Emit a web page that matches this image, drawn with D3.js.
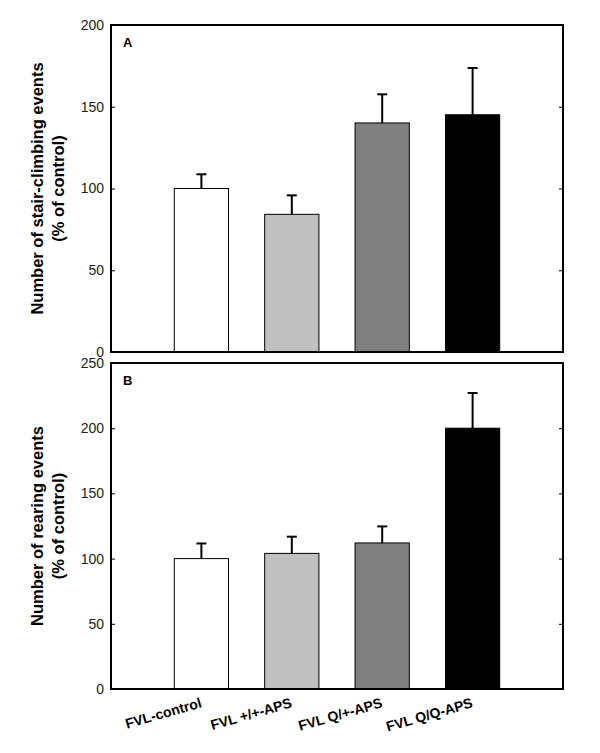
<!DOCTYPE html>
<html><head><meta charset="utf-8">
<script src="https://cdn.jsdelivr.net/npm/d3@7"></script>
<style>body{margin:0;background:#fff}</style>
</head><body>
<svg id="c" width="600" height="753"></svg>
<script>
const categories = ["FVL-control", "FVL +/+-APS", "FVL Q/+-APS", "FVL Q/Q-APS"];
const barColors = ["#ffffff", "#c0c0c0", "#808080", "#000000"];
const stairValues = [100, 84.2, 140.1, 145.1];
const stairErrors = [8.7, 11.6, 17.5, 28.6];
const rearValues = [100, 104, 112, 200];
const rearErrors = [11.6, 12.8, 12.7, 27];
const stairTicks = [0, 50, 100, 150, 200];
const rearTicks = [0, 50, 100, 150, 200, 250];

const svg = d3.select("#c");
const left = 111, right = 563;
const x = d3.scaleLinear().domain([0, 5]).range([left, right]);
const barW = 0.6;
const font = "Liberation Sans, Arial, sans-serif";

function panel(top, bottom, maxY, ticks, values, errors, letter, title) {
  const y = d3.scaleLinear().domain([0, maxY]).range([bottom, top]);
  const g = svg.append("g");
  g.selectAll("rect.bar").data(values).join("rect")
    .attr("x", (d, i) => x(i + 1 - barW / 2))
    .attr("width", x(barW) - x(0))
    .attr("y", d => y(d))
    .attr("height", d => y(0) - y(d))
    .attr("fill", (d, i) => barColors[i])
    .attr("stroke", "#000").attr("stroke-width", 1);
  g.selectAll("line.err").data(values).join("line")
    .attr("x1", (d, i) => x(i + 1)).attr("x2", (d, i) => x(i + 1))
    .attr("y1", d => y(d)).attr("y2", (d, i) => y(d + errors[i]))
    .attr("stroke", "#000").attr("stroke-width", 2);
  g.selectAll("line.cap").data(values).join("line")
    .attr("x1", (d, i) => x(i + 1) - 5).attr("x2", (d, i) => x(i + 1) + 5)
    .attr("y1", (d, i) => y(d + errors[i])).attr("y2", (d, i) => y(d + errors[i]))
    .attr("stroke", "#000").attr("stroke-width", 2);
  const ax = g.append("g").attr("transform", `translate(${left},0)`)
    .call(d3.axisLeft(y).tickValues(ticks).tickSizeInner(-4).tickSizeOuter(0).tickPadding(7));
  ax.select(".domain").remove();
  ax.selectAll("text").attr("font-family", font).attr("font-size", 14).attr("fill", "#222");
  ax.selectAll("line").attr("stroke", "#000");
  const ar = g.append("g").attr("transform", `translate(${right},0)`)
    .call(d3.axisRight(y).tickValues(ticks).tickSizeInner(-4).tickSizeOuter(0).tickFormat(""));
  ar.select(".domain").remove();
  ar.selectAll("line").attr("stroke", "#000");
  g.append("rect").attr("x", left).attr("y", top).attr("width", right - left).attr("height", bottom - top)
    .attr("fill", "none").attr("stroke", "#000").attr("stroke-width", 2);
  g.append("text").attr("x", 123).attr("y", top + 22).text(letter)
    .attr("font-family", font).attr("font-weight", "bold").attr("font-size", 13);
  const cy = (top + bottom) / 2;
  const t = g.append("text").attr("transform", `translate(43,${cy}) rotate(-90)`)
    .attr("text-anchor", "middle")
    .attr("font-family", font).attr("font-weight", "bold").attr("font-size", 16.5);
  t.append("tspan").attr("x", 0).attr("y", 0).text(title);
  t.append("tspan").attr("x", 0).attr("y", 21).text("(% of control)");
  return y;
}

panel(25, 352, 200, stairTicks, stairValues, stairErrors, "A", "Number of stair-climbing events");
panel(363, 689, 250, rearTicks, rearValues, rearErrors, "B", "Number of rearing events");

svg.selectAll("text.xl").data(categories).join("text")
  .attr("transform", (d, i) => `translate(${x(i + 1) + 1},707) rotate(-16)`)
  .attr("text-anchor", "end")
  .attr("font-family", font).attr("font-weight", "bold").attr("font-size", 14)
  .text(d => d);
</script>
</body></html>
